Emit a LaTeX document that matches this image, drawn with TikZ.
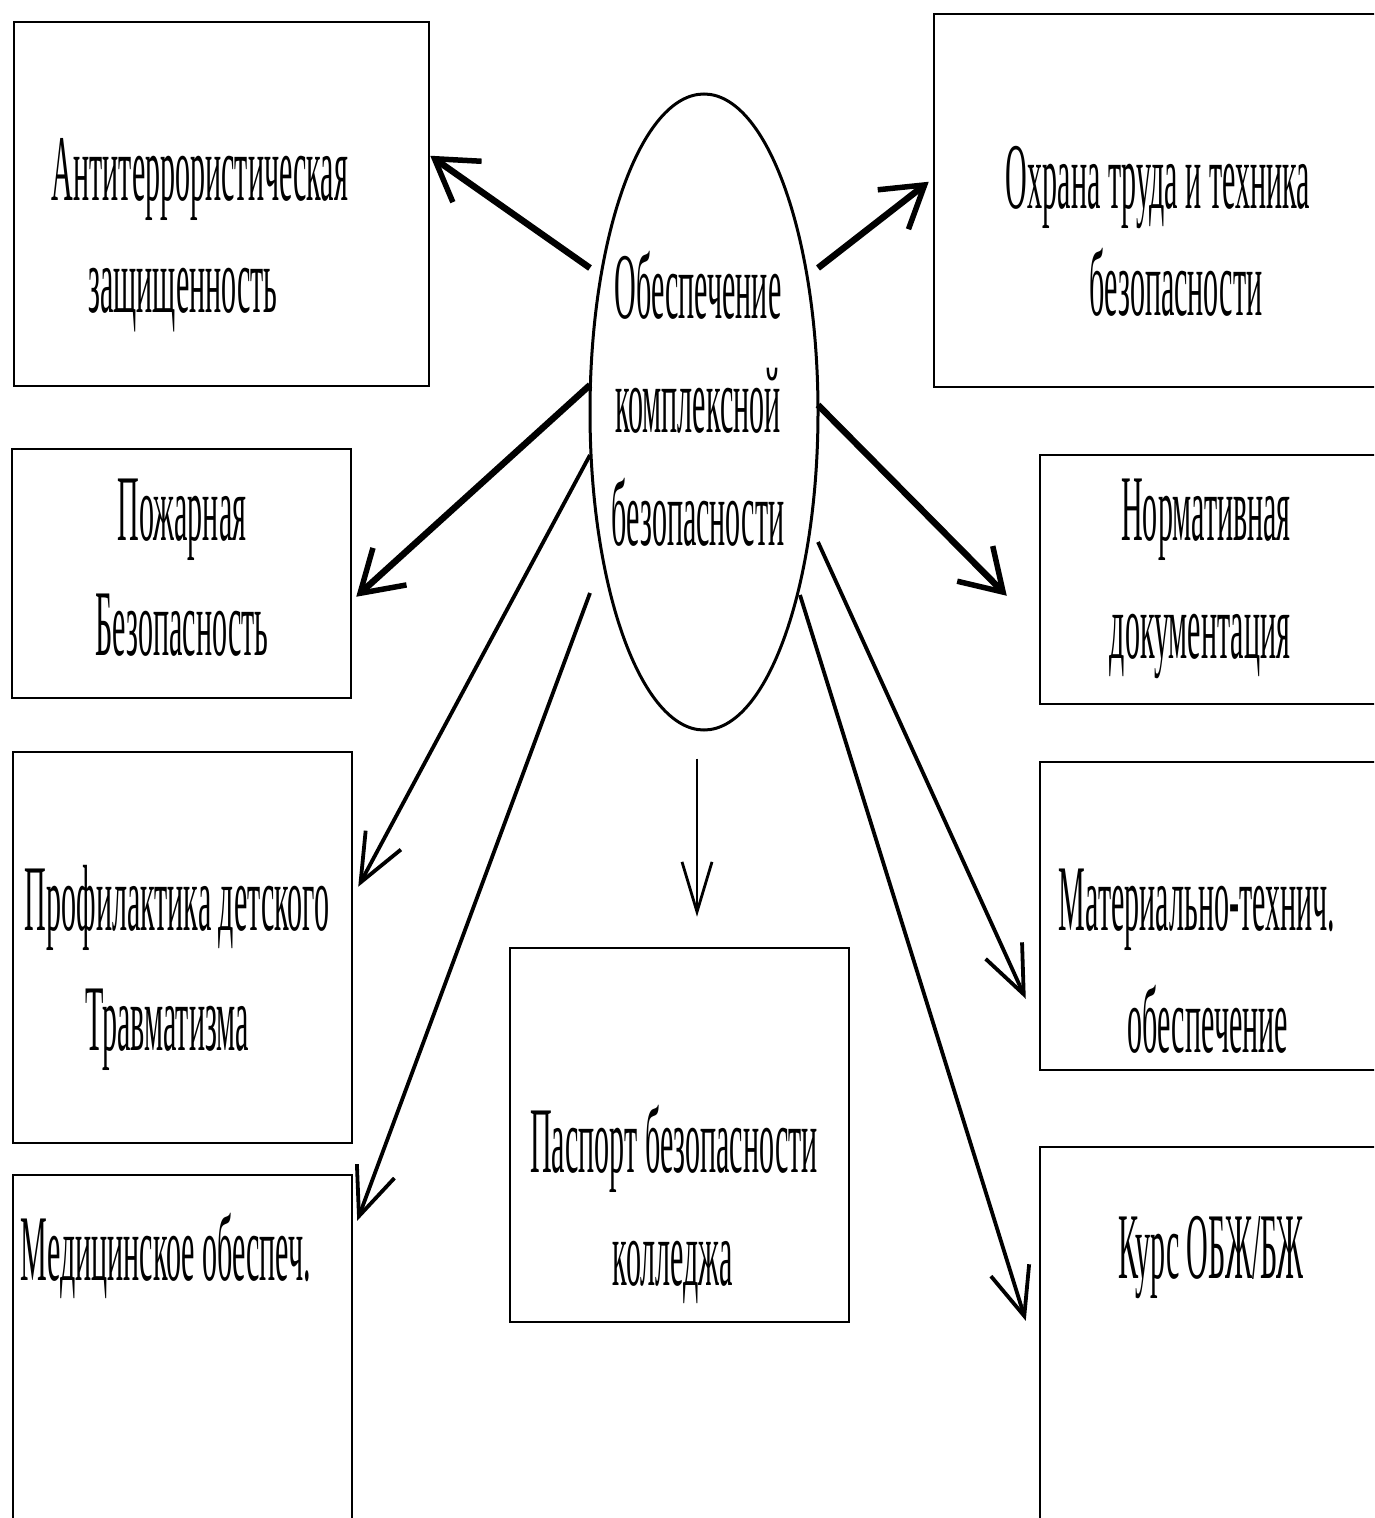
\documentclass[tikz,border=0pt]{standalone}
\usepackage{fontspec}
\newfontfamily\cond[FakeStretch=0.32]{Liberation Serif}
\usetikzlibrary{shapes.geometric,arrows.meta,calc}
\tikzset{
  box/.style={draw, line width=2.5pt, rectangle, inner sep=0pt},
  lbl/.style={anchor=base, inner sep=0pt, font=\cond\fontsize{94}{100}\selectfont},
  thickarr/.style={line width=6.5pt, -{Straight Barb[length=40pt,width=50pt,line width=5.5pt]}},
  medarr/.style={line width=3.8pt, -{Straight Barb[length=48pt,width=40pt,line width=3.8pt]}},
  thinarr/.style={line width=2.4pt, -{Straight Barb[length=50pt,width=30pt,line width=2.8pt]}},
}
\begin{document}
\begin{tikzpicture}[x=1pt,y=-1pt]
\useasboundingbox (0,0) rectangle (1374,1518);
\clip (0,0) rectangle (1374,1518);
% boxes
\node[box, minimum width=415pt, minimum height=364pt] (b1) at (221.5,204) {};
\node[box, minimum width=450pt, minimum height=373pt] (b2) at (1159,200.5) {};
\node[box, minimum width=339pt, minimum height=249pt] (b3) at (181.5,573.5) {};
\node[box, minimum width=344pt, minimum height=249pt] (b4) at (1212,579.5) {};
\node[box, minimum width=339pt, minimum height=391pt] (b5) at (182.5,947.5) {};
\node[box, minimum width=344pt, minimum height=308pt] (b6) at (1212,916) {};
\node[box, minimum width=339pt, minimum height=374pt] (b7) at (679.5,1135) {};
\node[box, minimum width=339pt, minimum height=355pt] (b8) at (182.5,1352.5) {};
\node[box, minimum width=344pt, minimum height=383pt] (b9) at (1212,1338.5) {};
% ellipse
\node[draw, ellipse, line width=3pt, minimum width=228pt, minimum height=636pt, inner sep=0pt] (e) at (704,412) {};
% labels
\node[lbl] (l1a) at (200,200) {Антитеррористическая};
\node[lbl] (l1b) at (183,312) {защищенность};
\node[lbl] (ea) at (698,318) {Обеспечение};
\node[lbl] (eb) at (698,432) {комплексной};
\node[lbl] (ec) at (698,545) {безопасности};
\node[lbl] (l2a) at (1158,208) {Охрана труда и техника};
\node[lbl] (l2b) at (1176,315) {безопасности};
\node[lbl] (l3a) at (182,540) {Пожарная};
\node[lbl] (l3b) at (182,655) {Безопасность};
\node[lbl] (l4a) at (1206,540) {Нормативная};
\node[lbl] (l4b) at (1200,658) {документация};
\node[lbl] (l5a) at (177,930) {Профилактика детского};
\node[lbl] (l5b) at (167,1050) {Травматизма};
\node[lbl] (l6a) at (1197,930) {Материально-технич.};
\node[lbl] (l6b) at (1208,1052) {обеспечение};
\node[lbl] (l7a) at (674,1172) {Паспорт безопасности};
\node[lbl] (l7b) at (673,1285) {колледжа};
\node[lbl] (l8) at (166,1280) {Медицинское обеспеч.};
\node[lbl] (l9) at (1211,1278) {Курс ОБЖ/БЖ};
% connector ends
\coordinate (s1) at ($(e.center)+(-114,-144)$);
\coordinate (s2) at ($(e.center)+(114,-144)$);
\coordinate (s3) at ($(e.center)+(-114,-27)$);
\coordinate (s4) at ($(e.center)+(114,-7)$);
\coordinate (s5) at ($(e.center)+(-114,43)$);
\coordinate (s6) at ($(e.center)+(-114,181)$);
\coordinate (s7) at ($(e.south)+(-7,27)$);
\coordinate (s8) at ($(e.center)+(114,130)$);
\coordinate (s9) at ($(e.center)+(96,183)$);
\coordinate (t1) at ($(b1.north east)+(0,135)$);
\coordinate (t2) at ($(b2.north west)+(-4,169)$);
\coordinate (t3) at ($(b3.north east)+(4,149)$);
\coordinate (t4) at ($(b4.north west)+(-32,142)$);
\coordinate (t5) at ($(b5.north east)+(5,136)$);
\coordinate (t6) at ($(b6.north west)+(-13,238)$);
\coordinate (t7) at ($(b7.north)+(17.5,-30)$);
\coordinate (t8) at ($(b8.north east)+(4,47)$);
\coordinate (t9) at ($(b9.north west)+(-13,175)$);
% connectors
\draw[thickarr] (s1) -- (t1);
\draw[thickarr] (s2) -- (t2);
\draw[thickarr] (s3) -- (t3);
\draw[thickarr] (s4) -- (t4);
\draw[medarr] (s5) -- (t5);
\draw[medarr] (s6) -- (t8);
\draw[thinarr] (s7) -- (t7);
\draw[medarr] (s8) -- (t6);
\draw[medarr] (s9) -- (t9);
\end{tikzpicture}
\end{document}
